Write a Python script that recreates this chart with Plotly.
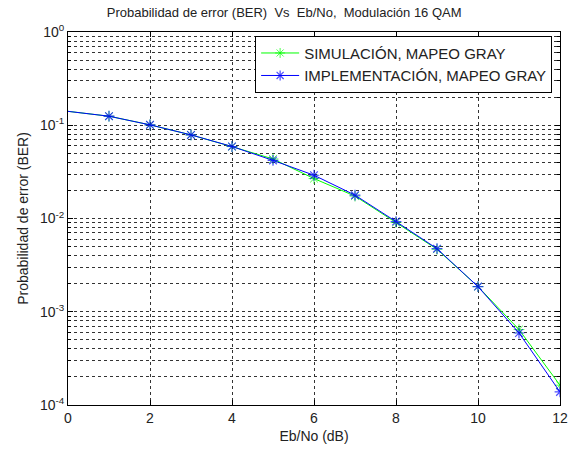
import plotly.graph_objects as go

# ---- data ----
ebno_db = [0, 1, 2, 3, 4, 5, 6, 7, 8, 9, 10, 11, 12]
ber_sim = [0.141, 0.125, 0.101, 0.0788, 0.0590, 0.0435, 0.0268, 0.0174, 0.00905, 0.00468, 0.00186, 0.000644, 0.000163]
ber_impl = [0.141, 0.125, 0.101, 0.0788, 0.0592, 0.0420, 0.0291, 0.0178, 0.00927, 0.00475, 0.00186, 0.000592, 0.000138]
series_names = ["SIMULACIÓN, MAPEO GRAY", "IMPLEMENTACIÓN, MAPEO GRAY"]
x_ticks = [0, 2, 4, 6, 8, 10, 12]
y_tickvals = [1, 0.1, 0.01, 0.001, 0.0001]
y_ticktext = ["10<sup>0</sup>", "10<sup>-1</sup>", "10<sup>-2</sup>", "10<sup>-3</sup>", "10<sup>-4</sup>"]
y_minor = [m * 10.0 ** e for e in range(-4, 0) for m in range(2, 10)]

FONT = "Liberation Sans, Arial, sans-serif"
marker_sizes = [0] + [9] * (len(ebno_db) - 1)
GRID = "#333"
DASH = "3px,3px"

fig = go.Figure()
fig.add_trace(go.Scatter(
    x=ebno_db, y=ber_sim, mode="lines+markers", name=series_names[0],
    line=dict(color="#00ff00", width=1),
    marker=dict(symbol="asterisk-open", size=marker_sizes, color="#00ff00",
                line=dict(color="#00ff00", width=1)),
))
fig.add_trace(go.Scatter(
    x=ebno_db, y=ber_impl, mode="lines+markers", name=series_names[1],
    line=dict(color="#0000ff", width=1),
    marker=dict(symbol="asterisk-open", size=marker_sizes, color="#0000ff",
                line=dict(color="#0000ff", width=1.2)),
))

fig.update_layout(
    width=580, height=454,
    margin=dict(l=68, r=14, t=32, b=46),
    paper_bgcolor="white", plot_bgcolor="white",
    font=dict(family=FONT, size=13, color="black"),
    title=dict(text="Probabilidad de error (BER) \u00a0Vs \u00a0Eb/No, \u00a0Modulación 16 QAM",
               x=0.49, xanchor="center", y=0.972, yanchor="middle",
               font=dict(size=13, family=FONT, color="#222")),
    showlegend=True,
    legend=dict(x=0.984, xanchor="right", y=0.99, yanchor="top",
                bgcolor="white", bordercolor="black", borderwidth=1,
                font=dict(size=15, family=FONT, color="#222"),
                tracegroupgap=0, itemwidth=38),
    xaxis=dict(range=[0, 12], tickmode="array", tickvals=x_ticks,
               showline=True, linecolor="black", linewidth=1, mirror="allticks",
               ticks="inside", ticklen=5, tickcolor="black",
               showgrid=True, gridcolor=GRID, griddash=DASH, gridwidth=1,
               zeroline=False,
               title=dict(text="Eb/No (dB)", standoff=6, font=dict(size=14, color="#222")),
               tickfont=dict(size=14, color="#222")),
    yaxis=dict(type="log", range=[-4, 0], tickmode="array",
               tickvals=y_tickvals, ticktext=y_ticktext,
               showline=True, linecolor="black", linewidth=1, mirror="allticks",
               ticks="inside", ticklen=5, tickcolor="black",
               showgrid=True, gridcolor=GRID, griddash=DASH, gridwidth=1,
               zeroline=False,
               minor=dict(tickmode="array", tickvals=y_minor, ticks="inside", ticklen=3,
                          tickcolor="black", showgrid=True, gridcolor=GRID,
                          griddash=DASH, gridwidth=1),
               title=dict(text="Probabilidad de error (BER)", standoff=8,
                          font=dict(size=14, color="#222")),
               tickfont=dict(size=14, color="#222")),
)

fig.write_html("out.html")
